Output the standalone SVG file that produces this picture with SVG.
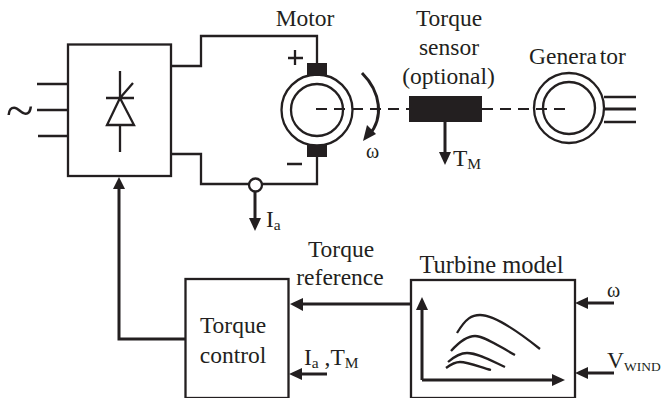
<svg xmlns="http://www.w3.org/2000/svg" width="665" height="398" viewBox="0 0 665 398">
<style>
text{font-family:"Liberation Serif","Times New Roman",serif;fill:#231f20;font-size:23.5px}
.m{text-anchor:middle}
.s{font-size:15.5px}
.o{font-size:20px}
.l{fill:none;stroke:#231f20;stroke-width:2.3}
.b{fill:none;stroke:#231f20;stroke-width:3}
.h{fill:#231f20;stroke:none}
.d{fill:none;stroke:#231f20;stroke-width:2.2;stroke-dasharray:11 7}
</style>
<rect width="665" height="398" fill="#fff"/>
<g id="connectors">
<path class="l" d="M171 66H201V36H317V66M171 154H201V184H317V156M37 84H68M37 110H68M38 136H68"/>
<path class="b" d="M119 186V339H185"/>
<path class="h" d="M119 177L125 189H113Z"/>
<path class="b" d="M255 191V222"/>
<path class="h" d="M255 231L249 218H261Z"/>
<path class="d" d="M316 109H409M482 109H569"/>
<path class="b" d="M362 73C381 92 384 118 369 135"/>
<path class="h" d="M363 141L367 125L376 134Z"/>
<path class="b" d="M445 121V155"/>
<path class="h" d="M445 165L439 152H451Z"/>
<path class="l" d="M604 97H636M604 122H636"/>
<path class="b" d="M604 109H636"/>
<path class="b" d="M300 304H410"/>
<path class="h" d="M290 304L303 298V311Z"/>
<path class="b" d="M300 374H327"/>
<path class="h" d="M289 374L302 368V380Z"/>
<path class="b" d="M585 303H614"/>
<path class="h" d="M575 303L588 297V309Z"/>
<path class="b" d="M585 373H614"/>
<path class="h" d="M575 373L588 367V379Z"/>
</g>
<g id="rectifier">
<rect class="l" x="68" y="44.500" width="103" height="131.500"/>
<path class="l" d="M120 71V98M106 98H134M120 98L133 83M120 125V152M120 98L107 125H134Z"/>
<text x="6" y="127" style="font-size:51px">~</text>
</g>
<g id="motor">
<circle class="l" cx="317" cy="110" r="35.500"/>
<circle class="l" cx="317" cy="110" r="26"/>
<rect class="h" x="307" y="63" width="20" height="13"/>
<rect class="h" x="307" y="145" width="20" height="12"/>
<text class="m" x="305" y="26">Motor</text>
<path class="l" d="M288 58H303M295 50V65M287 164H302"/>
<circle cx="255.500" cy="185" r="6.500" fill="#fff" stroke="#231f20" stroke-width="2.3"/>
<text x="266" y="227">I<tspan class="s" dy="3">a</tspan></text>
<text x="366" y="158" class="o">ω</text>
</g>
<g id="torque-sensor">
<rect class="h" x="409" y="96" width="73" height="26"/>
<text class="m" x="449" y="26">Torque</text>
<text class="m" x="449" y="55">sensor</text>
<text class="m" x="448.500" y="84">(optional)</text>
<text x="453" y="166">T<tspan class="s" dy="3">M</tspan></text>
</g>
<g id="generator">
<circle class="l" cx="569" cy="108" r="35"/>
<circle class="l" cx="569" cy="108" r="26"/>
<text class="m" x="577.500" y="64" xml:space="preserve" word-spacing="-3">Genera tor</text>
</g>
<g id="torque-control">
<rect class="l" x="185.500" y="279" width="103" height="119"/>
<text class="m" x="233" y="333">Torque</text>
<text class="m" x="233" y="363">control</text>
<text class="m" x="341" y="257">Torque</text>
<text class="m" x="340" y="285">reference</text>
<text x="304" y="365">I<tspan class="s" dy="3">a</tspan><tspan dy="-3"> ,T</tspan><tspan class="s" dy="3">M</tspan></text>
</g>
<g id="turbine-model">
<rect class="l" x="411" y="280" width="164" height="118"/>
<text class="m" x="491.500" y="273" style="font-size:24.500px">Turbine model</text>
<path class="b" d="M422 380V305M422 380H556"/>
<path class="h" d="M422 297L428 310H416Z"/>
<path class="h" d="M565 380L552 374V386Z"/>
<path class="l" d="M457 333C466 318 472 315 480 315C495 315 520 333 540 349M451 351C460 341 467 336 475 336C485 336 500 347 515 355M448 362C455 356 460 353 467 353C478 353 492 361 505 367M446 368C450 365 455 362 460 362C468 362 480 367 491 370"/>
<text x="607" y="297" class="o">ω</text>
<text x="607" y="368">V<tspan dy="3" style="font-size:13.500px">WIND</tspan></text>
</g>
</svg>
